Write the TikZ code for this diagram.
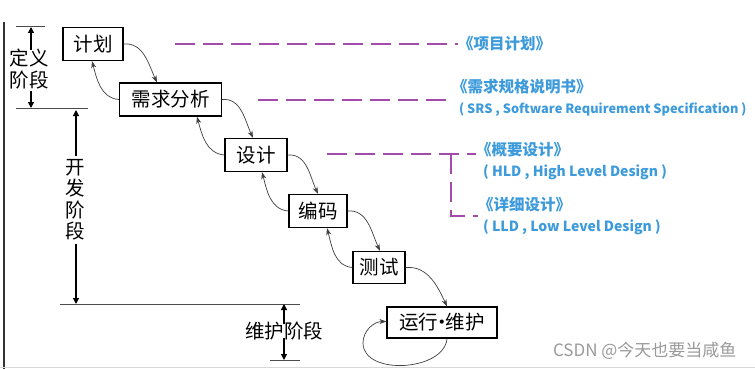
\documentclass[tikz,border=0pt]{standalone}
\usepackage{fontspec}
\setmainfont{Noto Sans CJK SC}
\newfontfamily\cjk{Noto Sans CJK SC}
\usetikzlibrary{arrows.meta, calc}
\definecolor{docblue}{HTML}{3D9BDB}
\definecolor{linkpurple}{HTML}{A24BAA}
\definecolor{frame}{HTML}{333333}
\definecolor{mark}{HTML}{9A9A9A}

\begin{document}
\begin{tikzpicture}[x=1pt, y=1pt,
  phase/.style={draw=black, line width=1.3pt, fill=white, inner sep=0pt,
    minimum height=33pt, font=\cjk\fontsize{19.5}{21}\selectfont},
  >={Stealth[length=7pt, width=5pt]},
  flow/.style={draw=black!75, line width=0.7pt, ->},
  dimline/.style={draw=black!70, line width=1pt},
  dimarrow/.style={draw=black, line width=1.2pt, -{Triangle[length=6pt, width=6pt]}},
  stage/.style={font=\cjk\fontsize{19.5}{21.5}\selectfont, align=center, inner sep=0pt},
  doclink/.style={draw=linkpurple, line width=2.2pt, dash pattern=on 20pt off 8pt},
  doc/.style={font=\cjk\bfseries\fontsize{14}{16}\selectfont, text=docblue,
    anchor=west, inner sep=0pt},
  doctitle/.style={doc, font=\cjk\bfseries\fontsize{15.5}{17}\selectfont},
]

% Canvas and frame lines
\useasboundingbox (0,0) rectangle (755,-369);
\fill[white] (0,0) rectangle (755,-369);
\draw[frame, line width=1.8pt] (4,-22) -- (4,-369);
\draw[black!15, line width=1.5pt] (0,-367.5) -- (755,-367.5);

% ============================================================
% Phase boxes (waterfall steps)
% ============================================================
\node[phase, minimum width=60pt] (plan) at (93,-44) {计划};
\node[phase, minimum width=102pt] (req) at (170.5,-99.5) {需求分析};
\node[phase, minimum width=62pt] (des) at (256,-155) {设计};
\node[phase, minimum width=58pt] (code) at (318,-211) {编码};
\node[phase, minimum width=52pt, minimum height=32pt] (test) at (379,-267.5) {测试};
\node[phase, minimum width=110pt, minimum height=31pt] (ops) at (442,-322.5)
  {运行\kern-6pt·\kern-6pt维护};

% forward steps
\draw[flow] (plan.east) to[out=5, in=115] ([xshift=-13.5pt]req.north);
\draw[flow] (req.east) to[out=5, in=115] ([xshift=-3pt]des.north);
\draw[flow] (des.east) to[out=5, in=115] (code.north);
\draw[flow] (code.east) to[out=5, in=115] ([xshift=1pt]test.north);
\draw[flow] (test.east) to[out=5, in=115] ([xshift=5pt]ops.north);

% feedback steps
\draw[flow] (req.west) to[out=175, in=-75] ([xshift=-1pt]plan.south);
\draw[flow] (des.west) to[out=175, in=-75] ([xshift=26.5pt]req.south);
\draw[flow] (code.west) to[out=175, in=-75] ([xshift=6pt]des.south);
\draw[flow] (test.west) to[out=175, in=-75] ([xshift=9pt]code.south);

% self loop of maintenance
\coordinate (loopleft) at (363,-343);
\draw[flow, -] ([xshift=5pt]ops.south) to[out=-95, in=-90] (loopleft);
\draw[flow] (loopleft) to[out=90, in=180] ([yshift=1pt]ops.west);

% ============================================================
% Stage spans on the left
% ============================================================
\node[stage] (define) at (29,-69) {定义\\阶段};
\node[stage, text width=20pt] (develop) at (75,-200) {开\\发\\阶\\段};
\node[stage] (maintain) at (284,-331) {维护阶段};

\coordinate (deftop) at (31,-27);
\coordinate (defbot) at (31,-108);
\coordinate (devtop) at (76,-110);
\coordinate (devbot) at (76,-304);
\coordinate (maintop) at (284,-304);
\coordinate (mainbot) at (284,-360);

\draw[dimline] (16,-27) -- (45,-27);
\draw[dimline] (16,-108) -- (88,-108);
\draw[dimline] (60,-304) -- (300,-304);
\draw[dimline] (270,-360) -- (300,-360);

\draw[dimarrow] (define.north -| deftop) ++(0,-1) -- (deftop);
\draw[dimarrow] (define.south -| defbot) ++(0,-2) -- (defbot);
\draw[dimarrow] ([yshift=3pt]develop.north -| devtop) -- (devtop);
\draw[dimarrow] ([yshift=-3pt]develop.south -| devbot) -- (devbot);
\draw[dimarrow] (maintain.north -| maintop) ++(0,-2) -- (maintop);
\draw[dimarrow] (maintain.south -| mainbot) ++(0,2) -- (mainbot);

% ============================================================
% Documents produced by each phase
% ============================================================
\node[doctitle] (pjplan) at (458,-44) {《项目计划》};
\node[doctitle] (srs) at (452,-87) {《需求规格说明书》};
\node[doc, font=\cjk\bfseries\fontsize{12.8}{15}\selectfont] (srsfull) at (459,-110)
  {( SRS , Software Requirement Specification )};
\node[doctitle] (hld) at (476,-150) {《概要设计》};
\node[doc] (hldfull) at (483,-172) {( HLD , High Level Design )};
\node[doctitle] (lld) at (478,-205) {《详细设计》};
\node[doc] (lldfull) at (483,-227) {( LLD , Low Level Design )};

\coordinate (planlink) at (175,-44);
\coordinate (reqlink) at (258,-100);
\coordinate (deslink) at (327,-154);
\coordinate (branch) at (451,-154);

\draw[doclink] (planlink) -- (planlink -| pjplan.west);
\draw[doclink] (reqlink) -- (reqlink -| srs.west);
\draw[doclink] (deslink) -- (deslink -| hld.west);
\draw[doclink] (branch) |- (lld.west |- 0,-216);

% Watermark
\node[font=\cjk\fontsize{17}{19}\selectfont, text=mark, anchor=east] (wm) at (740,-351)
  {CSDN @今天也要当咸鱼};

\end{tikzpicture}
\end{document}
